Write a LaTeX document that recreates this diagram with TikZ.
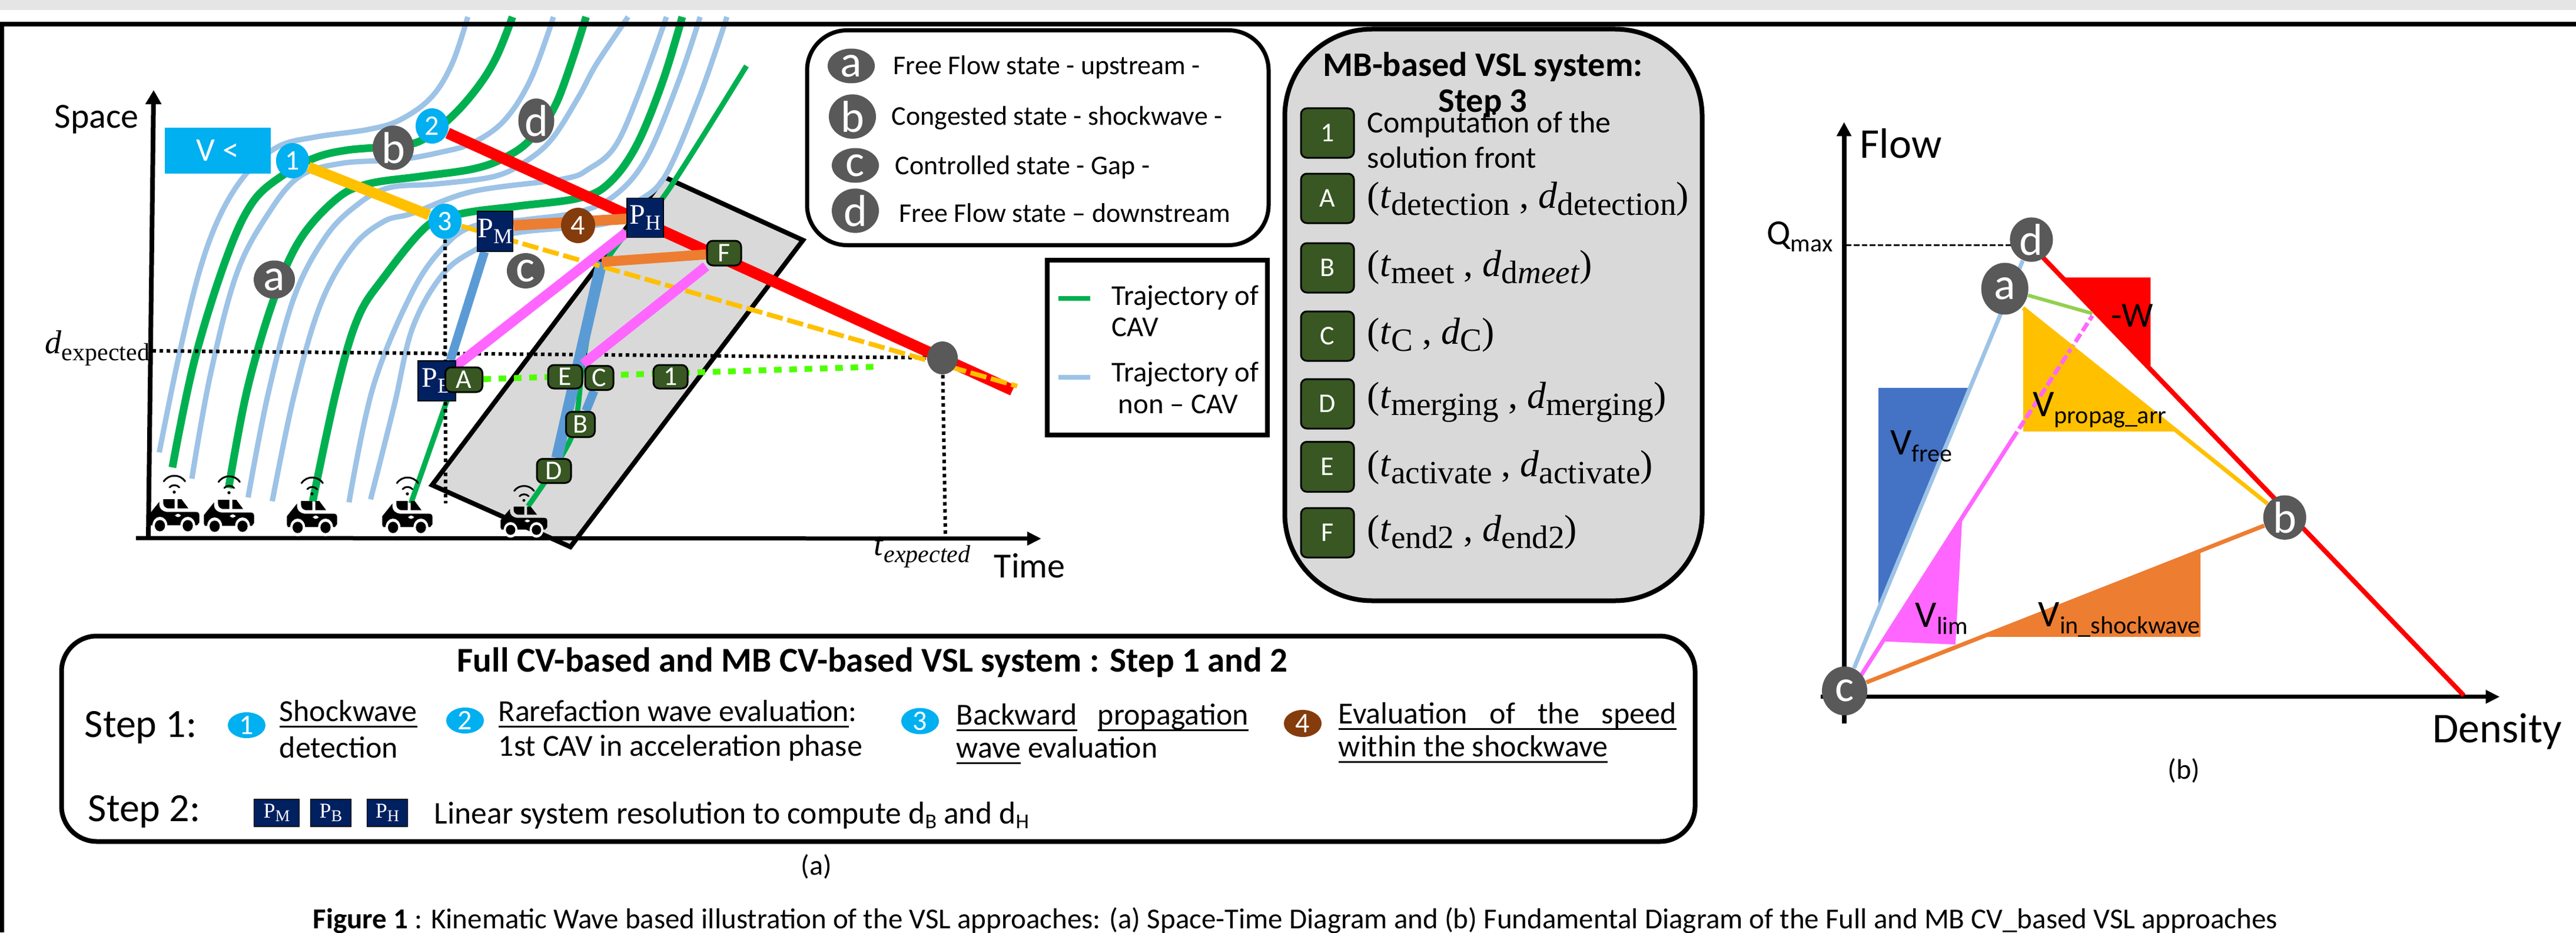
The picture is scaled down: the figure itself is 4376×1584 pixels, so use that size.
\documentclass[tikz,border=0pt]{standalone}
\usepackage{fontspec}
\setmainfont{Carlito}
\newfontfamily\srf{Liberation Serif}
\usetikzlibrary{shapes.geometric,arrows.meta,calc}
\pgfdeclarelayer{bg}
\pgfsetlayers{bg,main}
\definecolor{cblue}{HTML}{9DC3E6}
\definecolor{cgreen}{HTML}{00B050}
\definecolor{cyell}{HTML}{FFC000}
\definecolor{corange}{HTML}{ED7D31}
\definecolor{cmid}{HTML}{5B9BD5}
\definecolor{cmag}{HTML}{FF66FF}
\definecolor{cnavy}{HTML}{002060}
\definecolor{cdg}{HTML}{385723}
\definecolor{ccy}{HTML}{00B0F0}
\definecolor{cbrown}{HTML}{843C0C}
\definecolor{cgray}{HTML}{595959}
\definecolor{cbox}{HTML}{D9D9D9}
\definecolor{ctri}{HTML}{4472C4}
\definecolor{clg}{HTML}{92D050}
\definecolor{cdot}{HTML}{4FFF00}
\newcommand\fs[1]{\fontsize{#1}{#1}\selectfont}
\newcommand\lo[3]{\raisebox{-#2pt}{\fs{#1}#3}}
\newcommand\mbl[2]{{\srf\fs{16}(\textit{t}\lo{13.8}{3}{#1}\ ,\ \textit{d}\lo{13.8}{3}{#2})}}
\newcommand\pp[1]{{\srf\fs{12}P\lo{9}{2.5}{#1}}}
\newcommand\ppsm[1]{{\srf\fs{9}P\lo{7}{1.5}{#1}}}
\newsavebox\ulbox
\newcommand\ul[1]{\sbox\ulbox{#1}\rlap{\rule[-2.6pt]{\wd\ulbox}{.8pt}}\usebox\ulbox}
\tikzset{
 ell/.style 2 args={ellipse,minimum width=#1*.25pt,minimum height=#2*.25pt,inner sep=0pt,text=white},
 gc/.style 2 args={ell={#1}{#2},fill=cgray,font=\fs{19}},
 bc/.style 2 args={ell={#1}{#2},fill=ccy,font=\fs{12}},
 navy/.style 2 args={rectangle,minimum width=#1*.25pt,minimum height=#2*.25pt,inner sep=0pt,fill=cnavy,draw=black,line width=.4pt,text=white},
 dg/.style 2 args={rectangle,rounded corners=2.5pt,minimum width=#1*.25pt,minimum height=#2*.25pt,inner sep=0pt,fill=cdg,draw=black,line width=.75pt,text=white,font=\fs{11.5}},
 lbl/.style={anchor=west,inner sep=0pt,text=black},
 mid/.style={inner sep=0pt,text=black},
 traj/.style={line width=9*.25pt,cblue},
 trag/.style={line width=13*.25pt,cgreen},
 thing/.style={line width=9*.25pt,cgreen},
 blk/.style={line width=6*.25pt,black,dash pattern=on 1.5pt off 1.5pt},
 carpic/.pic={
  \begin{scope}[xscale=.3333,yscale=.3333,shift={(-508,-372)}]
   \fill[black] (380,328) -- (380,285) -- (432,220) -- (432,238) .. controls (434,255) and (445,268) .. (470,272) -- (618,272) .. controls (630,272) and (636,278) .. (636,290) -- (636,325) -- (625,340) -- (385,340) -- cycle;
   \fill[white] (435,342) ellipse [x radius=38,y radius=45];
   \fill[white] (577,342) ellipse [x radius=38,y radius=45];
   \fill[black] (435,342) ellipse [x radius=26,y radius=29];
   \fill[black] (577,342) ellipse [x radius=26,y radius=29];
   \fill[white,rounded corners=1pt] (513,282) rectangle (541,298);
   \fill[black] (452,207) -- (510,207) -- (510,254) -- (475,254) .. controls (460,250) and (452,240) .. (452,225) -- cycle;
   \fill[black] (525,207) -- (545,207) -- (580,254) -- (525,254) -- cycle;
   \fill[black] (508,171) circle [radius=8];
   \draw[black,line width=3*.25pt,line cap=round] (484,147) .. controls (495,132) and (522,132) .. (534,147);
   \draw[black,line width=3*.25pt,line cap=round] (455,116) .. controls (480,78) and (538,78) .. (563,116);
  \end{scope}
 }
}
\begin{document}
\begin{tikzpicture}[x=.25pt,y=-.25pt,line join=miter]
\useasboundingbox (0,0) rectangle (4376,1584);
% frame
\draw[black,line width=8*.25pt] (0,41) -- (4376,41);
\draw[black,line width=7*.25pt] (3,37) -- (3,1584);
% left diagram nodes
\node[rectangle,fill=ccy,minimum width=180*.25pt,minimum height=78*.25pt,inner sep=0pt,text=white,font=\fs{14}] (vbox) at (370,256) {V <};
\node[bc={56}{60}] (n1) at (497,273) {1};
\node[bc={56}{60}] (n2) at (734,214) {2};
\node[bc={56}{60}] (n3) at (756,376) {3};
\node[bc={58}{60},fill=cbrown] (n4) at (982,383) {4};
\node[gc={70}{56}] (sb) at (668,251) {b};
\node[gc={61}{56}] (sd) at (911,205) {d};
\node[gc={70}{65}] (sa) at (466,475) {a};
\node[gc={64}{60}] (sc) at (893,460) {c};
\node[navy={61}{68}] (PM) at (841,393) {\pp{M}};
\node[navy={62}{67}] (PH) at (1096,370) {\pp{H}};
\node[navy={64}{68}] (PB) at (742,647) {\pp{B}};
\node[dg={63}{42}] (qA) at (788,645) {A};
\node[dg={58}{40}] (qE) at (960,640) {E};
\node[dg={48}{41}] (qC) at (1018,642) {C};
\node[dg={58}{40}] (q1) at (1139,640) {1};
\node[dg={49}{43}] (qB) at (986,721) {B};
\node[dg={58}{41}] (qD) at (941,800) {D};
\node[dg={58}{42}] (qF) at (1230,430) {F};
\node[ell={52}{56},fill=cgray] (gdot) at (1601,608) {};
\coordinate (yend) at (1728,656);
\coordinate (rend) at (1720,663);
\coordinate (dl) at (259,596);
\coordinate (vd1) at (757,855);
\coordinate (vd2) at (1606,907);
\coordinate (gend) at (1489,623);
\coordinate (ob) at (1022,445);
\coordinate (g4a) at (698,855);
\coordinate (g4b) at (763,670);
\coordinate (oriz) at (231,914);
\coordinate (oxe) at (1769,915);
\coordinate (oy0) at (252,916);
\coordinate (oye) at (261,153);
% cars
\pic at (296,903) {carpic};
\pic at (389,904) {carpic};
\pic at (530,906) {carpic};
\pic at (692,906) {carpic};
\pic[xscale=.93,yscale=.88] at (890,909) {carpic};
% axis labels
\node[lbl,font=\fs{15}] (tspace) at (92,203) {Space};
\node[lbl,font=\fs{15}] (ttime) at (1688,961) {Time};
\node[lbl,font=\srf\fs{14}] (tdexp) at (76,592) {\textit{d}\lo{10.5}{3}{expected}};
\node[lbl,font=\srf\fs{14}] (ttexp) at (1484,938) {\textit{t}\lo{10.5}{3}{\textit{expected}}};
% legend 1
\node[rectangle,draw=black,line width=7*.25pt,fill=white,rounded corners=17pt,minimum width=784*.25pt,minimum height=365*.25pt,inner sep=0pt] (lega) at (1763,234) {};
\node[gc={80}{59}] (la) at (1446,112) {a};
\node[gc={80}{59}] (lb) at (1448,198) {b};
\node[gc={80}{59}] (lc) at (1453,281) {c};
\node[gc={80}{59}] (ld) at (1453,358) {d};
\node[lbl,font=\fs{11.5}] (ta) at (1517,114) {Free Flow state - upstream -};
\node[lbl,font=\fs{11.5}] (tb) at (1514,200) {Congested state - shockwave -};
\node[lbl,font=\fs{11.5}] (tc) at (1520,284) {Controlled state - Gap -};
\node[lbl,font=\fs{11.5}] (td) at (1527,362) {Free Flow state – downstream};
% legend 2
\node[rectangle,draw=black,line width=8*.25pt,fill=white,minimum width=374*.25pt,minimum height=297*.25pt,inner sep=0pt] (legb) at (1966,590) {};
\coordinate (lg1) at (1798,507);
\coordinate (lg2) at (1852,507);
\coordinate (lb1) at (1798,641);
\coordinate (lb2) at (1852,641);
\draw[cgreen,line width=8*.25pt] (lg1) -- (lg2);
\draw[cblue,line width=8*.25pt] (lb1) -- (lb2);
\node[lbl,font=\fs{12.2}] (l21) at (1888,506) {Trajectory of};
\node[lbl,font=\fs{12.2}] (l22) at (1888,556) {CAV};
\node[lbl,font=\fs{12.2}] (l23) at (1888,636) {Trajectory of};
\node[lbl,font=\fs{12.2}] (l24) at (1899,687) {non – CAV};
% MB box
\node[rectangle,draw=black,line width=8*.25pt,fill=cbox,rounded corners=37pt,minimum width=709*.25pt,minimum height=971*.25pt,inner sep=0pt] (mb) at (2537,535) {};
\node[mid,font=\bfseries\fs{14.6}] (mbt1) at (2519,114) {MB-based VSL system:};
\node[mid,font=\bfseries\fs{14.6}] (mbt2) at (2519,176) {Step 3};
\node[dg={90}{84}] (m1) at (2255,226) {1};
\node[dg={90}{84}] (mA) at (2255,337) {A};
\node[dg={90}{84}] (mB) at (2255,455) {B};
\node[dg={90}{84}] (mC) at (2255,571) {C};
\node[dg={90}{84}] (mD) at (2255,686) {D};
\node[dg={90}{85}] (mE) at (2255,793) {E};
\node[dg={90}{84}] (mF) at (2255,905) {F};
\node[lbl,font=\fs{13}] (mt1) at (2322,212) {Computation of the};
\node[lbl,font=\fs{13}] (mt2) at (2322,268) {solution front};
\node[lbl] (mtA) at (2322,338) {\mbl{detection}{detection}};
\node[lbl] (mtB) at (2322,454) {\mbl{meet}{d\textit{meet}}};
\node[lbl] (mtC) at (2322,569) {\mbl{C}{C}};
\node[lbl] (mtD) at (2322,683) {\mbl{merging}{merging}};
\node[lbl] (mtE) at (2322,794) {\mbl{activate}{activate}};
\node[lbl] (mtF) at (2322,904) {\mbl{end2}{end2}};
% bottom box
\node[rectangle,draw=black,line width=8*.25pt,fill=white,rounded corners=15pt,minimum width=2775*.25pt,minimum height=349*.25pt,inner sep=0pt] (bot) at (1492,1255) {};
\node[mid,font=\bfseries\fs{14.8}] (bt) at (1482,1125) {Full CV-based and MB CV-based VSL system : Step 1 and 2};
\node[lbl,font=\fs{17}] (st1) at (143,1236) {Step 1:};
\node[lbl,font=\fs{17}] (st2) at (149,1379) {Step 2:};
\node[bc={64}{44}] (b1) at (419,1232) {1};
\node[bc={64}{44}] (b2) at (790,1224) {2};
\node[bc={64}{44}] (b3) at (1563,1225) {3};
\node[bc={64}{46},fill=cbrown] (b4) at (2213,1229) {4};
\node[lbl,font=\fs{13}] (b11) at (474,1213) {\ul{Shockwave}};
\node[lbl,font=\fs{13}] (b12) at (474,1270) {detection};
\node[lbl,font=\fs{13}] (b21) at (846,1213) {\ul{Rarefaction wave evaluation}:};
\node[lbl,font=\fs{13}] (b22) at (846,1271) {1st CAV in acceleration phase};
\node[lbl,font=\fs{13}] (b31) at (1624,1219) {\makebox[124pt][s]{\ul{Backward}\hfil\ul{propagation}}};
\node[lbl,font=\fs{13}] (b32) at (1624,1275) {\ul{wave} evaluation};
\node[lbl,font=\fs{13}] (b41) at (2273,1217) {\ul{\makebox[143.5pt][s]{Evaluation of the speed}}};
\node[lbl,font=\fs{13}] (b42) at (2273,1273) {\ul{within the shockwave}};
\node[navy={77}{46}] (s1) at (470,1381) {\ppsm{M}};
\node[navy={69}{46}] (s2) at (562,1381) {\ppsm{B}};
\node[navy={69}{46}] (s3) at (658,1381) {\ppsm{H}};
\node[lbl,font=\fs{13.4}] (st) at (737,1385) {Linear system resolution to compute d\lo{9}{2}{B} and d\lo{9}{2}{H}};
\node[mid,font=\fs{12}] (capa) at (1387,1472) {(a)};
\node[mid,font=\fs{12}] (capb) at (3710,1309) {(b)};
\node[anchor=base west,inner sep=0pt,font=\fs{12.25}] (cap) at (531,1577) {\textbf{Figure 1} : Kinematic Wave based illustration of the VSL approaches: (a) Space-Time Diagram and (b) Fundamental Diagram of the Full and MB CV\_based VSL approaches};
% ---- right diagram
\begin{scope}[shift={(2900,150)},xscale=.9416,yscale=.7651]
\node[gc={77}{83}] (fc) at (248,1338) {c};
\node[gc={73}{73}] (fd) at (585,336) {d};
\node[gc={80}{88}] (fa) at (537,445) {a};
\node[gc={73}{73}] (fb) at (1042,953) {b};
\coordinate (fy0) at (247,1410);
\coordinate (fye) at (247,75);
\coordinate (fx0) at (205,1351);
\coordinate (fxe) at (1430,1351);
\coordinate (frs) at (585,349);
\coordinate (frend) at (1365,1348);
\coordinate (fyst) at (570,488);
\coordinate (fgr) at (695,500);
\coordinate (fmc) at (270,1318);
\coordinate (fmm) at (550,780);
\coordinate (fmt) at (695,505);
\coordinate (fq0) at (250,348);
\coordinate (fq1) at (548,348);
\node[lbl,font=\fs{18}] (tflow) at (275,122) {Flow};
\node[lbl,font=\fs{18}] (tdens) at (1308,1428) {Density};
\node[lbl,font=\fs{15}] (tq) at (107,330) {Q\lo{10.5}{3}{max}};
\node[lbl,font=\fs{15}] (tw) at (728,505) {-W};
\node[lbl,font=\fs{16}] (tvf) at (330,795) {V\lo{10.5}{3}{free}};
\node[lbl,font=\fs{16}] (tvp) at (587,715) {V\lo{10.5}{3}{propag\_arr}};
\node[lbl,font=\fs{16}] (tvl) at (375,1178) {V\lo{10.5}{3}{lim}};
\node[lbl,font=\fs{16}] (tvi) at (597,1180) {V\lo{10.5}{3}{in\_shockwave}};
\end{scope}
% ---- background layer
\begin{pgfonlayer}{bg}
\fill[white] (0,0) rectangle (4376,1584);
\fill[black!10] (0,0) rectangle (4376,17);
\filldraw[fill=cbox,draw=black,line width=8*.25pt] (1129,301) -- (1364,408) -- (969,929) -- (734,824) -- cycle;
\begin{scope}[xscale=.8929,yscale=.6378]
 \draw[traj] plot[smooth,tension=.6] coordinates {(303,1205) (340,950) (380,720) (420,570) (470,460) (530,390) (600,365) (700,345) (760,320) (820,260) (860,170) (890,45)};
 \draw[traj] plot[smooth,tension=.6] coordinates {(365,1275) (400,1000) (450,730) (510,570) (570,470) (650,435) (760,425) (840,405) (900,380) (960,320) (1010,210) (1053,45)};
 \draw[traj] plot[smooth,tension=.6] coordinates {(472,1325) (510,1050) (560,790) (620,630) (680,545) (740,500) (830,490) (940,470) (1000,430) (1050,370) (1100,260) (1135,170) (1195,45)};
 \draw[traj] plot[smooth,tension=.6] coordinates {(518,1335) (560,1050) (610,810) (670,660) (730,590) (785,568) (899,510) (1070,477) (1120,450) (1170,390) (1215,250) (1268,45)};
 \draw[traj] plot[smooth,tension=.6] coordinates {(664,1338) (710,1030) (785,776) (848,652) (906,600) (1000,585) (1100,565) (1170,520) (1230,420) (1290,220) (1332,45)};
 \draw[traj] plot[smooth,tension=.6] coordinates {(705,1330) (750,1080) (785,873) (842,731) (905,665) (979,621) (1157,594) (1210,540) (1265,470) (1330,260) (1383,45)};
 \draw[trag] plot[smooth,tension=.6] coordinates {(328,1245) (370,960) (430,690) (480,540) (540,465) (600,420) (660,400) (740,390) (800,375) (860,310) (910,230) (945,150) (975,45)};
 \draw[trag] plot[smooth,tension=.6] coordinates {(435,1300) (470,1040) (520,800) (570,640) (640,530) (700,490) (800,470) (900,450) (960,420) (1010,370) (1060,270) (1115,45)};
 \draw[trag] plot[smooth,tension=.6] coordinates {(595,1335) (640,1040) (680,850) (728,743) (814,600) (882,568) (985,549) (1100,528) (1157,490) (1210,390) (1260,220) (1298,45)};
\end{scope}
\draw[thing] (g4a) -- (g4b);
\draw[thing] plot[smooth,tension=.5] coordinates {(897,860) (971,742) (990,620) (1018,470) (1065,395) (1129,332) (1268,112)};
\draw[blk] (dl) -- (gdot);
\draw[blk] (n3) -- (vd1);
\draw[blk] (gdot) -- (vd2);
\draw[cdot,line width=10*.25pt,dash pattern=on 3.25pt off 3.25pt] (qA) -- (gend);
\draw[cmid,line width=15*.25pt] ([xshift=-4.5pt]PM.south) -- ([xshift=5.75pt]PB.north);
\draw[cmid,line width=19*.25pt] (ob) -- (qD);
\draw[cmid,line width=15*.25pt] (qC) -- (qB);
\draw[cyell,line width=18*.25pt] (n1) -- (n3);
\draw[red,line width=19*.25pt] (n2) -- (rend);
\draw[cyell,line width=8*.25pt,dash pattern=on 7pt off 2pt] (n3) -- (yend);
\draw[corange,line width=18*.25pt] ($(PM.east)+(0,-10)$) -- (PH);
\draw[corange,line width=17*.25pt] (ob) -- (qF);
\draw[cmag,line width=17*.25pt] (PB) -- (PH);
\draw[cmag,line width=17*.25pt] (qE.north east) -- (qF.south west);
\draw[black,line width=8*.25pt,-{Triangle[length=6pt,width=6.5pt]}] (oy0) -- (oye);
\draw[black,line width=7*.25pt,-{Triangle[length=6pt,width=5.5pt]}] (oriz) -- (oxe);
\begin{scope}[shift={(2900,150)},xscale=.9416,yscale=.7651]
 \fill[ctri] (309,665) -- (475,665) -- (309,1158) -- cycle;
 \fill[cmag] (460,958) -- (448,1235) -- (318,1228) -- cycle;
 \fill[corange] (890,1029) -- (890,1218) -- (490,1218) -- cycle;
 \fill[cyell] (570,488) -- (848,762) -- (570,762) -- cycle;
 \fill[red] (640,420) -- (800,420) -- (800,625) -- cycle;
 \draw[black,line width=8*.25pt,-{Triangle[length=6pt,width=6pt]}] (fy0) -- (fye);
 \draw[black,line width=7*.25pt,-{Triangle[length=6pt,width=5.5pt]}] (fx0) -- (fxe);
 \draw[black,line width=3*.25pt,dash pattern=on 2.4pt off 1pt] (fq0) -- (fq1);
 \draw[cblue,line width=7*.25pt] (fc) -- (fd);
 \draw[cmag,line width=7*.25pt] (fmc) -- (fmm);
 \draw[cmag,line width=7*.25pt,dash pattern=on 4pt off 1.5pt] (fmm) -- (fmt);
 \draw[corange,line width=7*.25pt] (fc) -- (fb);
 \draw[cyell,line width=7*.25pt] (fyst) -- (fb);
 \draw[red,line width=8*.25pt] (frs) -- (frend);
 \draw[clg,line width=6*.25pt] (fa) -- (fgr);
\end{scope}
\end{pgfonlayer}
\end{tikzpicture}
\end{document}
